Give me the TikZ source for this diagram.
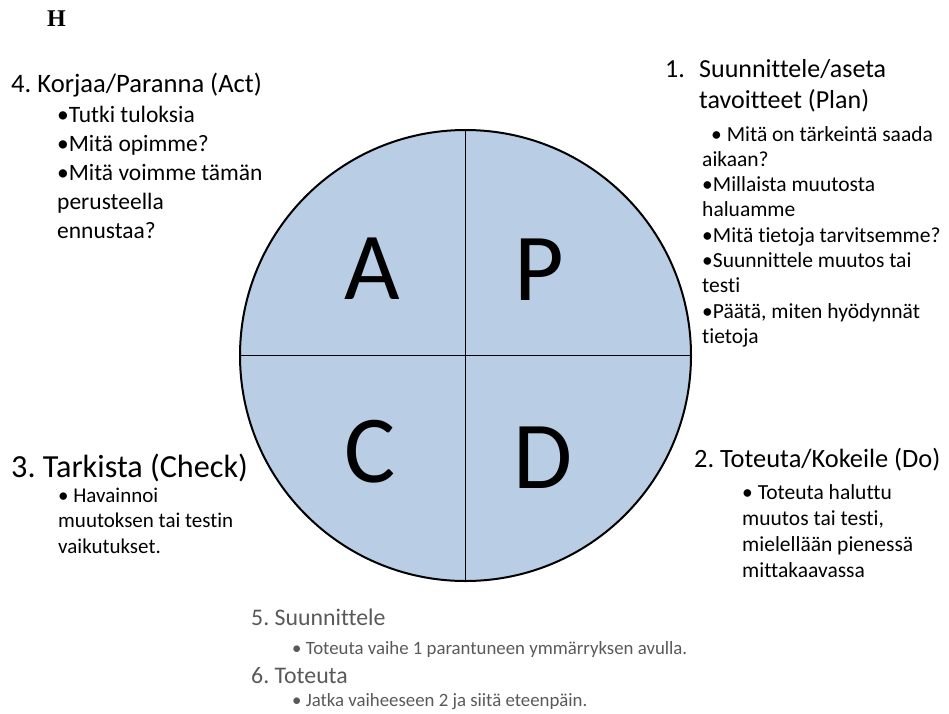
\documentclass[tikz,border=0pt]{standalone}
\usepackage{fontspec}
\setmainfont{Carlito}[Ligatures=CommonOff]
\newfontfamily\headserif{Liberation Serif}
\definecolor{quadfill}{HTML}{B9CDE5}
\definecolor{notegray}{HTML}{595959}
\frenchspacing

% multi-line nodes are anchored at the baseline of their last line
\tikzset{
  txt/.style={inner sep=0pt, anchor=base west, align=left},
  head/.style={txt, font=\fontsize{#1}{31}\selectfont},
  sub/.style 2 args={txt, font=\fontsize{#1}{#2}\selectfont},
  bigletter/.style={inner sep=0pt, anchor=base, font=\fontsize{96}{96}\selectfont},
  note/.style={txt, text=notegray}
}

\begin{document}
\begin{tikzpicture}[x=1pt,y=-1pt]
\useasboundingbox (0,0) rectangle (949,713);

% the PDCA wheel
\node[circle, draw=black, line width=2pt, fill=quadfill, minimum size=451pt, inner sep=0pt]
  (wheel) at (465.5,355.5) {};
\draw[line width=1.4pt] (wheel.north) -- (wheel.south);
\draw[line width=1.4pt] (wheel.west) -- (wheel.east);

\node[bigletter] (qa) at (372.5,299.5) {A};
\node[bigletter] (qp) at (539,300) {P};
\node[bigletter] (qc) at (370.5,482) {C};
\node[bigletter] (qd) at (543.5,488) {D};

% heading mark
\node[txt, font=\headserif\bfseries\fontsize{24}{24}\selectfont] (mark) at (47,26) {H};

% 4. Act
\node[head=26.6] (acttitle) at (11,92) {4. Korjaa/Paranna (Act)};
\node[sub={23.5}{29}] (actlist) at (57,238)
  {•Tutki tuloksia\\•Mitä opimme?\\•Mitä voimme tämän\\perusteella\\ennustaa?};

% 1. Plan
\node[head=26] (plannum) at (665,77) {1.};
\node[head=26] (plantitle) at (699,108) {Suunnittele/aseta\\tavoitteet (Plan)};
\node[sub={21.5}{25.3}] (planlist) at (702,343.4)
  {\hspace{9pt}• Mitä on tärkeintä saada\\aikaan?\\•Millaista muutosta\\haluamme\\•Mitä tietoja tarvitsemme?\\•Suunnittele muutos tai\\testi\\•Päätä, miten hyödynnät\\tietoja};

% 2. Do
\node[head=26.4] (dotitle) at (694,467) {2. Toteuta/Kokeile (Do)};
\node[sub={21.5}{26}] (dolist) at (742,577)
  {• Toteuta haluttu\\muutos tai testi,\\mielellään pienessä\\mittakaavassa};

% 3. Check
\node[head=32.2] (checktitle) at (11,477) {3. Tarkista (Check)};
\node[sub={21}{25.5}] (checklist) at (58,553)
  {• Havainnoi\\muutoksen tai testin\\vaikutukset.};

% next round
\node[note, font=\fontsize{23.8}{24}\selectfont] (step5) at (251,625) {5. Suunnittele};
\node[note, font=\fontsize{18.8}{19}\selectfont] (step5sub) at (292,654)
  {• Toteuta vaihe 1 parantuneen ymmärryksen avulla.};
\node[note, font=\fontsize{23.8}{24}\selectfont] (step6) at (251,683) {6. Toteuta};
\node[note, font=\fontsize{18.8}{19}\selectfont] (step6sub) at (292,706)
  {• Jatka vaiheeseen 2 ja siitä eteenpäin.};
\end{tikzpicture}
\end{document}
